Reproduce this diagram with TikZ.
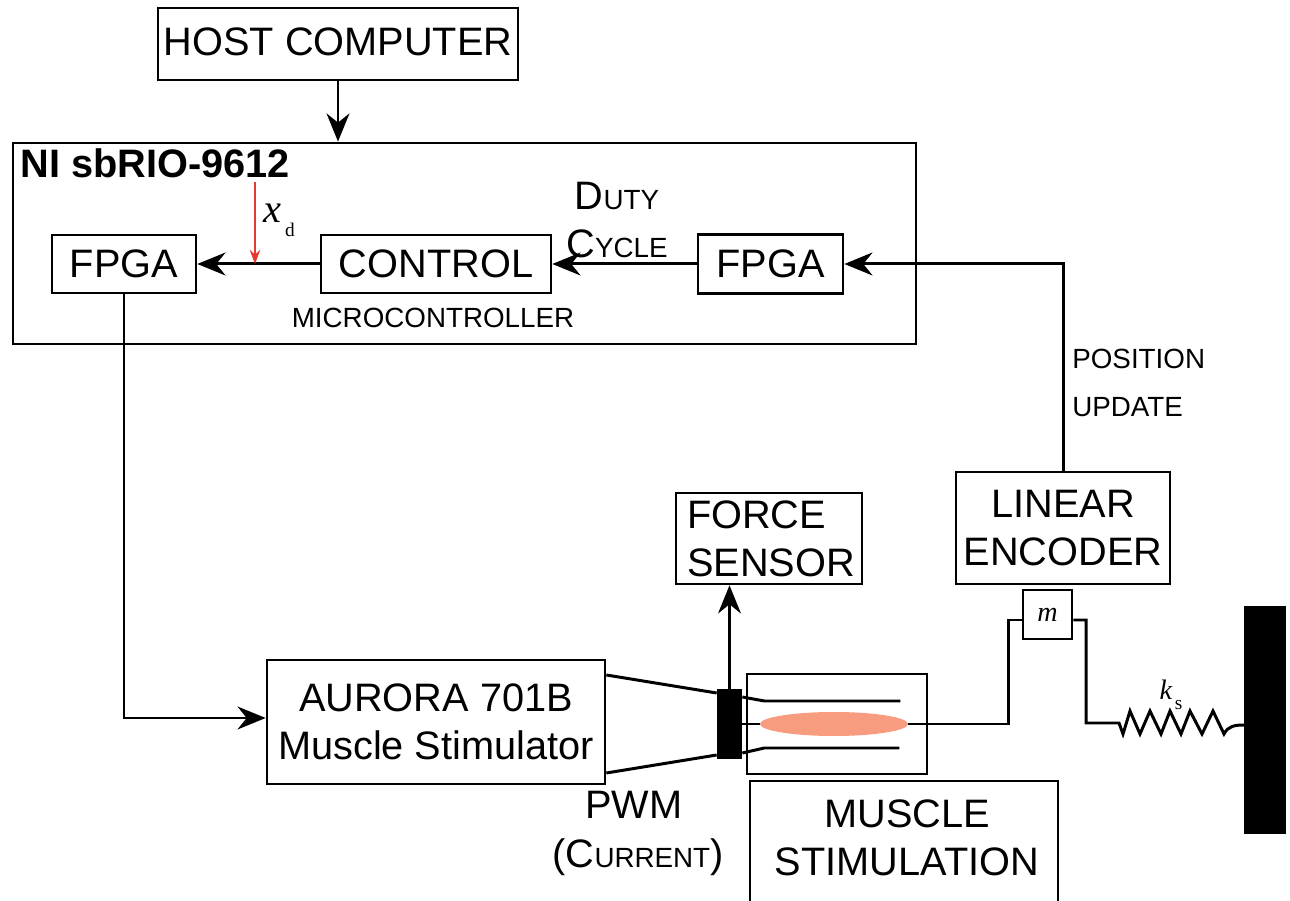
\documentclass[tikz,border=0pt]{standalone}
\usepackage{fontspec}
\setmainfont{Liberation Sans}
\newfontfamily\labelserif{Liberation Serif}
\usetikzlibrary{arrows.meta,shapes.geometric}
\definecolor{musclesalmon}{HTML}{F79C7E}
\definecolor{setred}{HTML}{E53A2E}
\newcommand{\bigsize}{\fontsize{22.6}{27.2}\selectfont}
\newcommand{\smallsize}{\fontsize{15.8}{27.2}\selectfont}
\newcommand{\capword}[2]{#1{\smallsize #2}}
\newcommand{\serifsub}[3]{{\labelserif\fontsize{#3}{#3}\selectfont\itshape #1\raisebox{-0.35em}{\hspace{0.1em}\fontsize{11}{11}\selectfont\upshape #2}}}
\tikzset{
  blockbox/.style={draw, line width=1.5pt, inner sep=0pt, align=center, font=\bigsize},
  bigtext/.style={inner sep=0pt, align=center, font=\bigsize},
  smalltext/.style={inner sep=0pt, font=\smallsize},
  wire/.style={line width=1.7pt},
  flow/.style={line width=1.7pt, -{Stealth[length=16pt, width=13pt]}},
}

\begin{document}
\begin{tikzpicture}[x=0.2mm, y=-0.2mm]
  \useasboundingbox (0,0) rectangle (1290,901);
  % Host and board
  \node[blockbox, minimum width=7.2cm, minimum height=1.44cm] (host) at (338,44) {\raisebox{0.08cm}{HOST COMPUTER}};
  \node[draw, line width=1.6pt, minimum width=18.06cm, minimum height=4.02cm] (rio) at (464.5,243.5) {};
  \node[inner sep=0pt, anchor=west, font=\fontsize{22.6}{26}\selectfont\bfseries] (riolabel) at (20,163) {NI sbRIO-9612};
  \draw[flow] (host.south) -- (host.south |- rio.north);
  % Blocks on the board
  \node[blockbox, minimum width=2.88cm, minimum height=1.16cm] (fpgaout) at (124,264) {FPGA};
  \node[blockbox, minimum width=4.6cm, minimum height=1.16cm] (control) at (436,264) {CONTROL};
  \node[blockbox, minimum width=2.9cm, minimum height=1.18cm] (fpgain) at (770.5,264) {FPGA};
  \node[smalltext] (micro) at (433,318) {MICROCONTROLLER};
  \node[bigtext] (duty) at (617,196) {\capword{D}{UTY}};
  \node[bigtext] (cycle) at (617,244) {\capword{C}{YCLE}};
  \draw[flow] (fpgain.west) -- (control.east);
  \draw[flow] (control.west) -- (fpgaout.east);
  % Desired position
  \coordinate (xdtop) at (255,182);
  \draw[setred, line width=1.2pt, -{Stealth[length=8pt, width=6pt]}] (xdtop) -- (xdtop |- control.west);
  \node[inner sep=0pt] (xd) at (279,220) {\serifsub{x}{d}{23}};
  % Encoder feedback
  \node[blockbox, minimum width=4.28cm, minimum height=2.24cm] (encoder) at (1063,528) {LINEAR\\ENCODER};
  \draw[flow] (encoder.north) |- (fpgain.east);
  \node[smalltext, anchor=west] (position) at (1072,359) {POSITION};
  \node[smalltext, anchor=west] (update) at (1072,407) {UPDATE};
  % Stimulator
  \node[blockbox, minimum width=6.76cm, minimum height=2.48cm] (aurora) at (436,722) {AURORA 701B\\Muscle Stimulator};
  \draw[flow] (fpgaout.south) |- ([yshift=0.08cm]aurora.west);
  \node[bigtext] (pwm) at (634,805) {PWM};
  \node[bigtext] (current) at (638,857) {(\capword{C}{URRENT})};
  % Clamp and force sensor
  \node[fill=black, inner sep=0pt, minimum width=0.5cm, minimum height=1.4cm] (clamp) at (729.5,724) {};
  \node[blockbox, align=left, minimum width=3.72cm, minimum height=1.82cm] (force) at (769,538.5) {\hspace*{0.08cm}FORCE\\\hspace*{0.08cm}SENSOR};
  \draw[flow] (clamp.north) -- (clamp.north |- force.south);
  \draw[wire] ([yshift=0.94cm]aurora.east) -- ([yshift=0.62cm]clamp.west);
  \draw[wire] ([yshift=-1.02cm]aurora.east) -- ([yshift=-0.62cm]clamp.west);
  % Muscle chamber
  \node[draw, line width=1.5pt, minimum width=3.6cm, minimum height=2cm] (chamber) at (837,724) {};
  \node[ellipse, fill=musclesalmon, inner sep=0pt, minimum width=2.96cm, minimum height=0.48cm] (muscle) at (834,724) {};
  \draw[wire] (clamp.east) -- (muscle.west);
  \draw[wire] ([yshift=0.54cm]clamp.east) -- ++(22,4) -- ++(136,0);
  \draw[wire] ([yshift=-0.58cm]clamp.east) -- ++(22,-5) -- ++(135,0);
  % Caption box runs off the page
  \draw[line width=1.5pt] (750,901) -- (750,781) -- (1058,781) -- (1058,901);
  \node[bigtext] (stimulation) at (907,838) {MUSCLE\\STIMULATION};
  % Mass, spring, wall
  \node[draw, line width=1.5pt, inner sep=0pt, minimum width=0.98cm, minimum height=0.98cm] (mass) at (1047.5,614.5) {\labelserif\fontsize{16}{16}\selectfont\itshape m};
  \node[fill=black, inner sep=0pt, minimum width=0.84cm, minimum height=4.56cm] (wall) at (1265,720) {};
  \coordinate (massin) at (1008,620);
  \coordinate (massout) at (1086,620);
  \draw[wire] (muscle.east) -| (massin) -- (massin -| mass.west);
  \draw[wire] (massout -| mass.east) -- (massout) -- (1086,723) -- (1119,723) -- (1123,734)
    -- (1130,711) -- (1140,734) -- (1150,711) -- (1161,734) -- (1170,711) -- (1181,734)
    -- (1190,711) -- (1202,734) -- (1213,711) -- (1224,734)
    .. controls (1228,726) and (1235,725) .. (1244,725);
  \node[inner sep=0pt] (ks) at (1171,695) {\serifsub{k}{s}{16}};
\end{tikzpicture}
\end{document}
